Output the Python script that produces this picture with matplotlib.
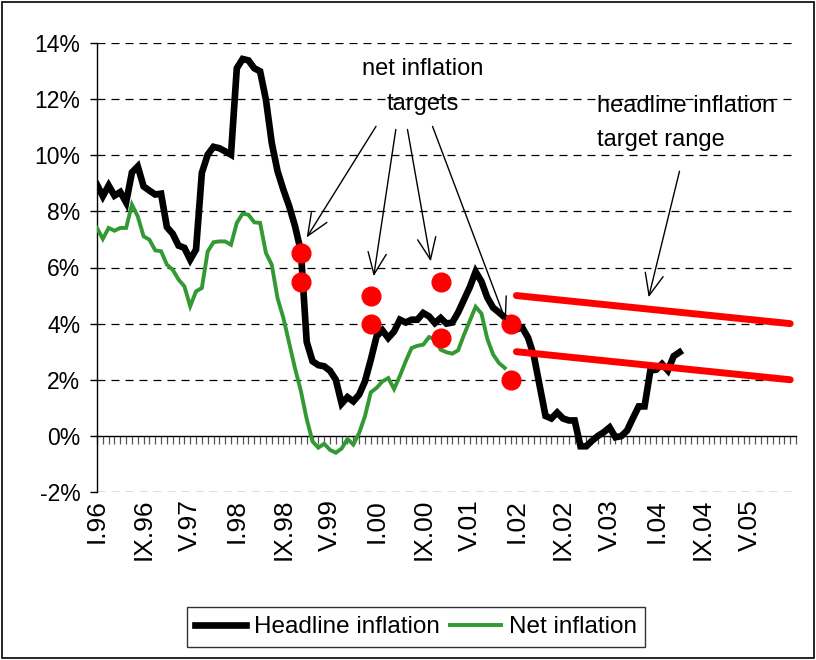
import numpy as np
import matplotlib
matplotlib.use("Agg")
import matplotlib.pyplot as plt
from matplotlib.patches import Rectangle

plt.rcParams['font.family'] = ['Liberation Sans', 'DejaVu Sans']

# ---------------- data ----------------
headline = [8.95, 8.54, 8.92, 8.56, 8.69, 8.32, 9.39, 9.6, 8.89, 8.74, 8.6, 8.63,
            7.44, 7.2, 6.78, 6.7, 6.28, 6.64, 9.37, 10.02, 10.3, 10.25, 10.14, 10.02,
            13.1, 13.43, 13.38, 13.1, 12.99, 11.98, 10.44, 9.43, 8.77, 8.18, 7.47, 6.58,
            3.35, 2.66, 2.52, 2.48, 2.32, 2.0, 1.15, 1.38, 1.23, 1.47, 1.94, 2.71,
            3.55, 3.76, 3.49, 3.72, 4.14, 4.04, 4.14, 4.14, 4.38, 4.26, 4.02, 4.2,
            4.0, 4.04, 4.4, 4.85, 5.3, 5.85, 5.5, 4.93, 4.57, 4.4, 4.22, 3.98,
            3.8, 3.86, 3.5, 2.85, 1.78, 0.71, 0.62, 0.83, 0.62, 0.55, 0.55, -0.37,
            -0.37, -0.17, 0.0, 0.13, 0.3, -0.05, -0.01, 0.19, 0.63, 1.05, 1.05, 2.33,
            2.36, 2.56, 2.33, 2.84, 2.98]
net = [7.41, 7.02, 7.41, 7.31, 7.41, 7.41, 8.24, 7.82, 7.11, 6.99, 6.61, 6.58,
       6.1, 5.92, 5.57, 5.33, 4.62, 5.15, 5.27, 6.57, 6.9, 6.93, 6.93, 6.81,
       7.59, 7.92, 7.88, 7.61, 7.59, 6.52, 6.1, 4.9, 4.2, 3.3, 2.4, 1.6,
       0.6, -0.2, -0.42, -0.28, -0.5, -0.6, -0.45, -0.11, -0.31, 0.1, 0.7, 1.55,
       1.71, 1.94, 2.06, 1.67, 2.14, 2.66, 3.13, 3.21, 3.25, 3.52, 3.45, 3.07,
       2.98, 2.93, 3.05, 3.6, 4.1, 4.6, 4.36, 3.46, 2.9, 2.6, 2.42]
# net inflation targets (month index, value) - December of 1998..2001
target_months = [35, 35, 47, 47, 59, 59, 71, 71]
target_values = [6.5, 5.5, 5.0, 4.0, 5.5, 3.5, 4.0, 2.0]
# headline inflation target range: Jan 2002 -> Dec 2005
range_months = [72, 119]
range_upper = [5.0, 4.0]
range_lower = [3.0, 2.0]

tick_months = list(range(0, 120, 8))
tick_labels = ['I.96', 'IX.96', 'V.97', 'I.98', 'IX.98', 'V.99', 'I.00', 'IX.00',
               'V.01', 'I.02', 'IX.02', 'V.03', 'I.04', 'IX.04', 'V.05']
y_ticks = list(range(-2, 15, 2))

# ---------------- figure ----------------
fig = plt.figure(figsize=(8.16, 6.6), dpi=100)
ax = fig.add_axes([97/816, 1 - 492/660, 699/816, 449/660])

green = '#339933'
red = '#ff0000'

ax.plot(range(len(net)), net, color=green, lw=2.8, zorder=3, label='Net inflation',
        solid_joinstyle='miter')
ax.plot(range(len(headline)), headline, color='black', lw=4.8, zorder=4,
        label='Headline inflation', solid_joinstyle='miter')
ax.plot(range_months, range_upper, color=red, lw=5, solid_capstyle='round', zorder=5)
ax.plot(range_months, range_lower, color=red, lw=5, solid_capstyle='round', zorder=5)
ax.plot(target_months, target_values, 'o', color=red, ms=13.5, mec=red, zorder=6)

ax.set_xlim(0, 120)
ax.set_ylim(-2, 14)
ax.set_yticks(y_ticks)
ax.set_yticklabels([f'{v}%' for v in y_ticks], fontsize=16.5)
ax.tick_params(axis='y', direction='out', length=5, width=1, pad=7)

for y in y_ticks:
    if y != 0:
        ax.axhline(y, color='black', lw=0.9, linestyle=(0, (6.4, 4.8)), zorder=1)

for s in ['top', 'right']:
    ax.spines[s].set_visible(False)
ax.spines['bottom'].set_position(('data', 0))
ax.spines['left'].set_linewidth(1)
ax.spines['bottom'].set_linewidth(1)
ax.set_xticks(np.arange(0, 121, 1))
ax.tick_params(axis='x', direction='out', length=6, width=0.9, color='#555555',
               labelbottom=False)

sec = ax.secondary_xaxis(0)
sec.set_xticks(tick_months)
sec.set_xticklabels(tick_labels, rotation=90, fontsize=19)
sec.tick_params(length=0, pad=5)
sec.spines['bottom'].set_visible(False)

# ---------------- annotations ----------------
ax.text(55.9, 12.45, 'net inflation\ntargets', ha='center', va='center', fontsize=17,
        linespacing=1.75)
ax.text(85.9, 11.15, 'headline inflation\ntarget range', ha='left', va='center',
        fontsize=17, linespacing=1.75)

aprops = dict(arrowstyle='->,head_length=1.3,head_width=0.55', lw=1, color='black',
              mutation_scale=12, shrinkA=0, shrinkB=0)
arrows = [((36.0, 7.07), (47.9, 11.03)),
          ((47.5, 5.69), (51.3, 10.92)),
          ((57.3, 6.22), (53.3, 10.92)),
          ((70.2, 4.09), (57.6, 11.03)),
          ((94.7, 4.94), (100.0, 9.43))]
for tip, tail in arrows:
    ax.annotate('', xy=tip, xytext=tail, arrowprops=aprops, zorder=7)

# ---------------- legend ----------------
leg = fig.legend(handles=[ax.lines[1], ax.lines[0]],
                 labels=['Headline inflation', 'Net inflation'],
                 loc='center', bbox_to_anchor=(416/816, 1 - 627/660), ncol=2,
                 fontsize=17.5, frameon=True, fancybox=False, edgecolor='black',
                 handlelength=2.1, handletextpad=0.3, columnspacing=0.45,
                 borderpad=0.35, borderaxespad=0)
leg.get_frame().set_linewidth(1)

fig.patches.append(Rectangle((0.002, 0.003), 0.995, 0.994, transform=fig.transFigure,
                             fill=False, edgecolor='black', lw=1.2))

fig.savefig('out.png', dpi=100)
